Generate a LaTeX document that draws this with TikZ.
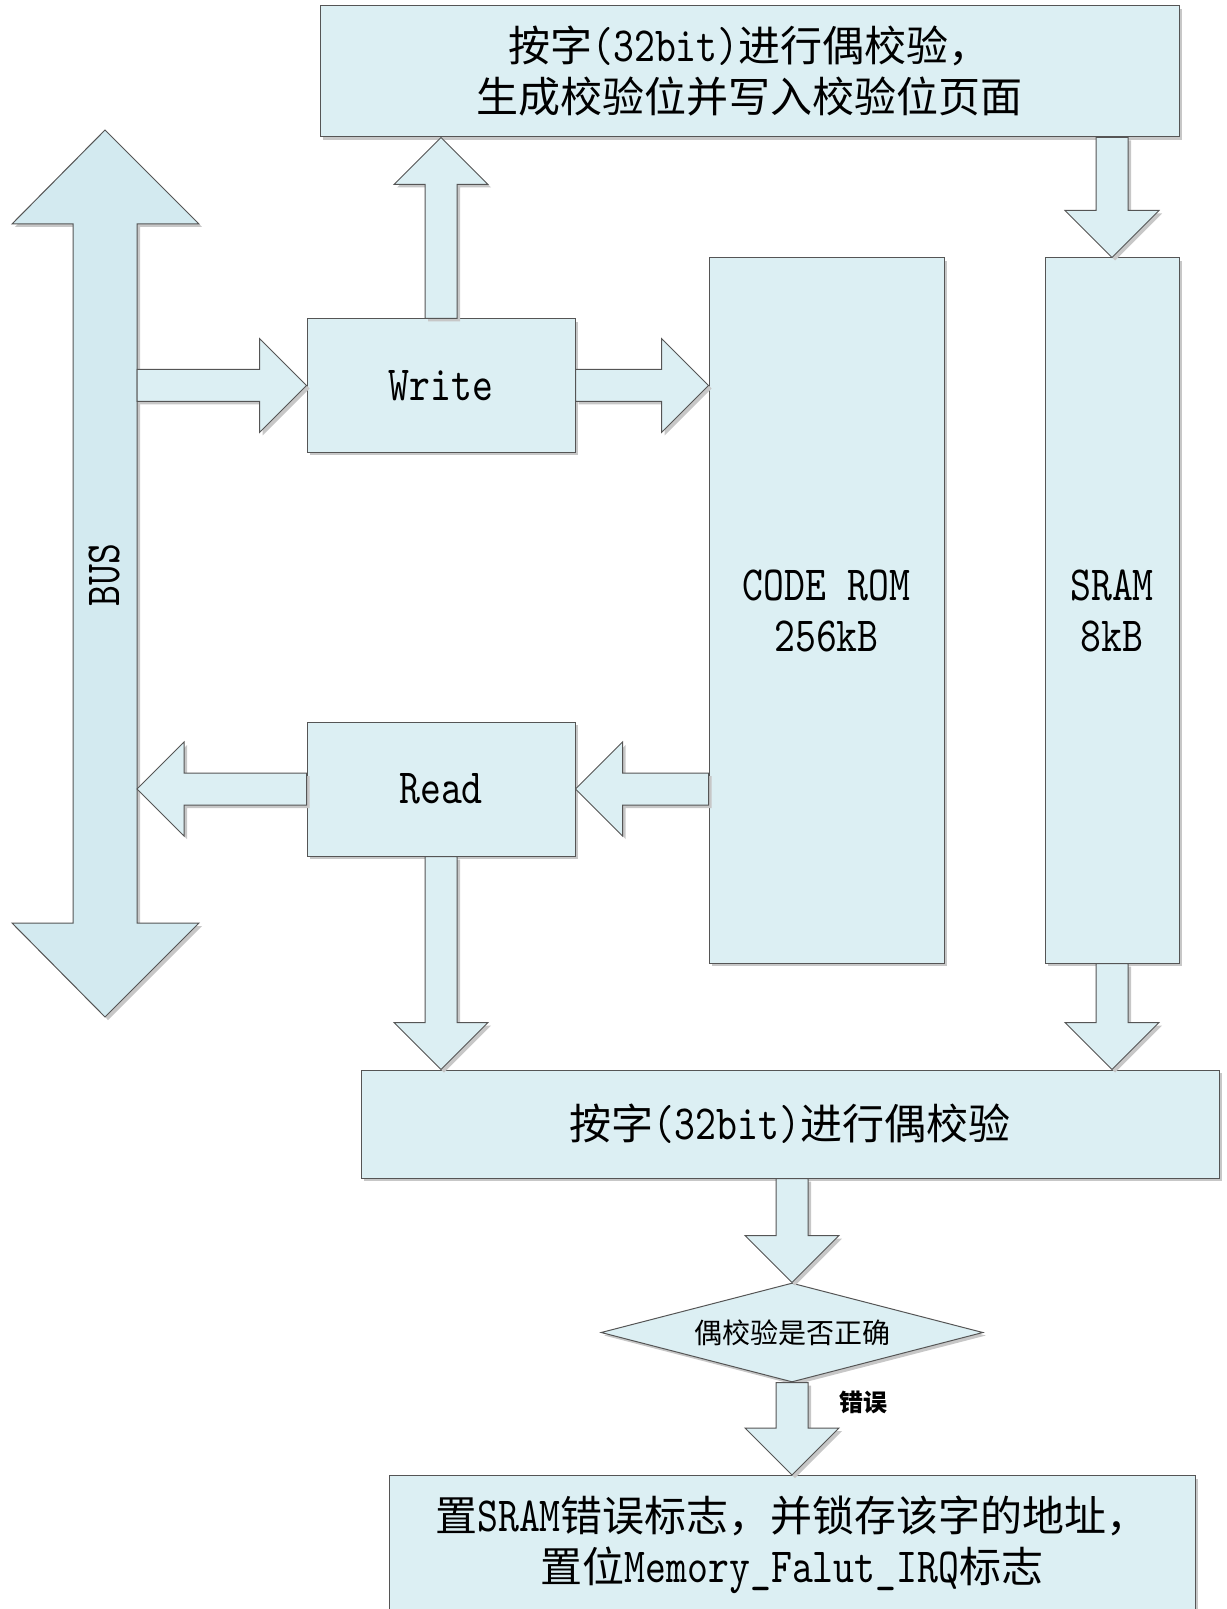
\documentclass[tikz,border=0pt]{standalone}
\usepackage{fontspec}
\setmainfont{Noto Sans CJK SC}
\newfontfamily\half{lmmono10-regular}[Extension=.otf,Scale=1.17,FakeStretch=0.81]
\usetikzlibrary{calc,shapes.geometric,shadows}
\definecolor{boxfill}{RGB}{220,239,243}
\definecolor{busfill}{RGB}{211,234,240}
\definecolor{edgegray}{RGB}{85,85,85}

\tikzset{
	shade box/.style={drop shadow={shadow xshift=1.5pt,shadow yshift=-1.5pt,fill=black!22,opacity=1}},
	block/.style={draw=edgegray,line width=0.5pt,fill=boxfill,shade box,inner sep=0pt,align=center,font=\fontsize{21pt}{25.5pt}\selectfont},
	latin/.style={font=\fontsize{21pt}{25.5pt}\selectfont\half},
	fat/.style={draw=edgegray,line width=0.5pt,fill=boxfill,shade box},
}

% block arrow from #1 to its tip #2
\newcommand{\fatarrow}[2]{%
	\coordinate (fa-base) at ($(#2)!23.5pt!(#1)$);
	\draw[fat] ($(#1)!8pt!90:(#2)$) -- ($(fa-base)!8pt!90:(#2)$) -- ($(fa-base)!23.5pt!90:(#2)$) -- (#2)
		-- ($(fa-base)!23.5pt!-90:(#2)$) -- ($(fa-base)!8pt!-90:(#2)$) -- ($(#1)!8pt!-90:(#2)$) -- cycle;}

\begin{document}
\begin{tikzpicture}[x=0.5pt,y=-0.5pt]
	\useasboundingbox (0,0) rectangle (1226,1609);
	\clip (0,0) rectangle (1226,1609);

	\node	[block, minimum width=429.5pt, minimum height=65.5pt]	(parity)	at (749.5,71.5)	{按字{\half(32bit)}进行偶校验，\\生成校验位并写入校验位页面};
	\node	[block, latin, minimum width=134pt, minimum height=66.5pt]	(write)	at (441,385.5)	{Write};
	\node	[block, latin, minimum width=134pt, minimum height=67pt]	(read)	at (441,789)	{Read};
	\node	[block, latin, minimum width=117.5pt, minimum height=352.5pt]	(rom)	at (826.5,610.5)	{CODE ROM\\256kB};
	\node	[block, latin, minimum width=67pt, minimum height=352.5pt]	(sram)	at (1112,610.5)	{SRAM\\8kB};
	\node	[block, minimum width=429pt, minimum height=54pt]	(check)	at (790,1124)	{按字{\half(32bit)}进行偶校验};
	\node	[block, diamond, aspect=3.86, minimum width=191pt, minimum height=49.5pt, font=\fontsize{14pt}{16pt}\selectfont]	(test)	at (792,1332.5)	{偶校验是否正确};
	\node	[block, anchor=north, minimum width=403pt, inner ysep=10pt, text depth=60pt, font=\fontsize{21pt}{25.5pt}\selectfont]	(flag)	at (792,1475)
		{置{\half SRAM}错误标志，并锁存该字的地址，\\置位{\half Memory\_Falut\_IRQ}标志};
	\node	[font=\fontsize{12pt}{14pt}\selectfont\bfseries]	(err)	at (863,1402)	{错误};

	\coordinate (bus-n) at (105,130);
	\coordinate (bus-s) at (105,1017);
	\draw[fat, fill=busfill] (bus-n) -- (199,224) -- (137,224) -- (137,923) -- (199,923) -- (bus-s)
		-- (12,923) -- (73,923) -- (73,224) -- (12,224) -- cycle;
	\node	[latin, rotate=90]	(bus)	at (104,575)	{BUS};

	\coordinate (busR) at (137,0);
	\coordinate (b2w) at (write.west -| busR);
	\coordinate (r2b) at (read.west -| busR);
	\coordinate (w2r) at (write.east -| rom.west);
	\coordinate (r2r) at (read.east -| rom.west);
	\coordinate (w2p) at (write.north |- parity.south);
	\coordinate (p2s) at (sram.north |- parity.south);
	\coordinate (r2c) at (read.south |- check.north);
	\coordinate (s2c) at (sram.south |- check.north);
	\coordinate (c2t) at (test.north |- check.south);

	\fatarrow{b2w}{write.west}
	\fatarrow{write.east}{w2r}
	\fatarrow{write.north}{w2p}
	\fatarrow{p2s}{sram.north}
	\fatarrow{r2r}{read.east}
	\fatarrow{read.west}{r2b}
	\fatarrow{read.south}{r2c}
	\fatarrow{sram.south}{s2c}
	\fatarrow{c2t}{test.north}
	\fatarrow{test.south}{flag.north}
\end{tikzpicture}
\end{document}
